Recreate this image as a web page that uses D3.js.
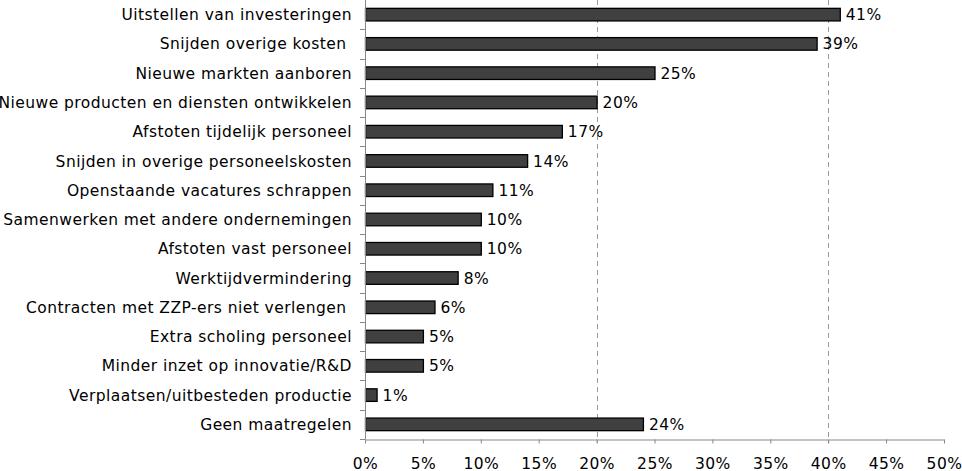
<!DOCTYPE html>
<html>
<head>
<meta charset="utf-8">
<script src="https://cdn.jsdelivr.net/npm/d3@7"></script>
<style>
  body { margin: 0; background: #fff; }
  text { font-family: "DejaVu Sans", Verdana, sans-serif; letter-spacing: 0.45px; }
</style>
</head>
<body>
<svg id="chart" width="962" height="471"></svg>
<script>
let categories = [
  "Uitstellen van investeringen",
  "Snijden overige kosten ",
  "Nieuwe markten aanboren",
  "Nieuwe producten en diensten ontwikkelen",
  "Afstoten tijdelijk personeel",
  "Snijden in overige personeelskosten",
  "Openstaande vacatures schrappen",
  "Samenwerken met andere ondernemingen",
  "Afstoten vast personeel",
  "Werktijdvermindering",
  "Contracten met ZZP-ers niet verlengen ",
  "Extra scholing personeel",
  "Minder inzet op innovatie/R&D",
  "Verplaatsen/uitbesteden productie",
  "Geen maatregelen"
]
let values = [41, 39, 25, 20, 17, 14, 11, 10, 10, 8, 6, 5, 5, 1, 24]
let xTicks = [0, 5, 10, 15, 20, 25, 30, 35, 40, 45, 50]
let gridTicks = [20, 40]

let data = categories.map((c, i) => ({ label: c, value: values[i] }))

let marginLeft = 365, marginTop = 0, plotW = 579, plotH = 439
let fontSize = "15.5px"

let svg = d3.select("#chart")
  .append("g")
  .attr("transform", `translate(${marginLeft},${marginTop})`)

let xScale = d3.scaleLinear()
  .domain([0, 50])
  .range([0, plotW])

let yScale = d3.scaleBand()
  .domain(categories)
  .range([0, plotH])
  .paddingInner(0.57)
  .paddingOuter(0.285)

// dashed gridlines
svg.selectAll(".grid")
  .data(gridTicks)
  .join("line")
  .attr("class", "grid")
  .attr("x1", d => Math.round(xScale(d)) + 0.5)
  .attr("x2", d => Math.round(xScale(d)) + 0.5)
  .attr("y1", 0)
  .attr("y2", plotH + 4)
  .attr("stroke", "#999")
  .attr("stroke-dasharray", "5,4")

// bars
svg.selectAll(".bar")
  .data(data)
  .join("rect")
  .attr("class", "bar")
  .attr("x", 0.5)
  .attr("y", d => yScale(d.label))
  .attr("width", d => xScale(d.value))
  .attr("height", yScale.bandwidth())
  .attr("fill", "#404040")
  .attr("stroke", "#000")
  .attr("stroke-width", 1.3)

// value labels
svg.selectAll(".val")
  .data(data)
  .join("text")
  .attr("class", "val")
  .attr("x", d => xScale(d.value) + 6)
  .attr("y", d => yScale(d.label) + yScale.bandwidth() / 2)
  .attr("dy", "0.36em")
  .style("font-size", fontSize)
  .attr("fill", "#000")
  .text(d => d.value + "%")

// y axis line and ticks at band boundaries
let step = yScale.step()
let boundaries = d3.range(categories.length + 1).map(i => i * step)
svg.append("line")
  .attr("x1", 0.5).attr("x2", 0.5)
  .attr("y1", 0).attr("y2", plotH)
  .attr("stroke", "#888")
svg.selectAll(".ytick")
  .data(boundaries.slice(1))
  .join("line")
  .attr("class", "ytick")
  .attr("x1", -5).attr("x2", 0.5)
  .attr("y1", d => Math.round(d) + 0.5)
  .attr("y2", d => Math.round(d) + 0.5)
  .attr("stroke", "#888")

// category labels
svg.selectAll(".cat")
  .data(data)
  .join("text")
  .attr("class", "cat")
  .attr("x", -13)
  .attr("y", d => yScale(d.label) + yScale.bandwidth() / 2)
  .attr("dy", "0.36em")
  .attr("text-anchor", "end")
  .attr("xml:space", "preserve")
  .style("white-space", "pre")
  .style("font-size", fontSize)
  .attr("fill", "#000")
  .text(d => d.label)

// x axis
let xAxis = svg.append("g")
  .attr("transform", `translate(0,${plotH + 0.5})`)
  .call(d3.axisBottom(xScale)
    .tickValues(xTicks)
    .tickFormat(d => d + "%")
    .tickSize(4)
    .tickSizeOuter(0)
    .tickPadding(14))
xAxis.select(".domain").attr("stroke", "#888")
xAxis.selectAll(".tick line").attr("stroke", "#888")
xAxis.selectAll("text")
  .style("font-size", fontSize)
  .style("font-family", "'DejaVu Sans', Verdana, sans-serif")
  .attr("fill", "#000")
</script>
</body>
</html>
